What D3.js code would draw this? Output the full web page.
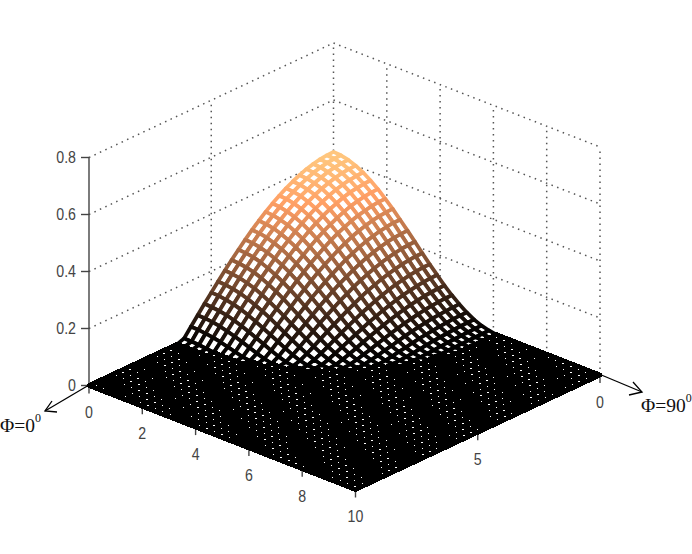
<!DOCTYPE html>
<html>
<head>
<meta charset="utf-8">
<script src="https://d3js.org/d3.v7.min.js"></script>
<style>
html, body {margin: 0; padding: 0; background: #fff;}
svg {display: block;}
.tick-label {font-family: "Liberation Sans", Arial, sans-serif; font-size: 16.5px; fill: #444;}
.phi-label {font-family: "Liberation Serif", "Times New Roman", serif; font-size: 19.5px; fill: #111;}
</style>
</head>
<body>
<div id="chart"></div>
<script>
var xTicks = [0, 2, 4, 6, 8, 10];
var yTicks = [0, 5, 10];
var zTicks = [0, 0.2, 0.4, 0.6, 0.8];
var zTickLabels = ["0", "0.2", "0.4", "0.6", "0.8"];
var cellCount = 36; // mesh cells per side

// estimated surface height per mesh row (thousandths), past the end of a row is the flat floor
var zRows = [
  [418,417,414,409,402,392,381,368,353,337,319,299,278,255,231,206,180,153,125,97,68,39,9],
  [416,415,412,407,400,390,379,366,352,335,317,297,276,253,229,204,178,151,124,95,67,38,8],
  [410,409,406,401,393,384,373,361,346,329,311,292,271,248,225,200,174,147,120,92,64,35,6],
  [400,399,396,391,384,375,364,351,337,320,303,283,262,240,217,193,167,141,114,87,59,31,3],
  [386,385,382,377,370,361,350,338,324,308,290,271,251,229,206,183,158,132,106,79,52,25],
  [368,367,364,360,353,344,334,322,308,292,275,257,237,216,193,170,146,121,96,70,44,18],
  [348,347,344,339,333,324,314,302,289,274,257,239,220,200,178,156,132,109,84,59,35,11],
  [324,324,321,316,310,302,292,281,268,253,237,220,201,182,161,140,117,95,71,48,25,3],
  [299,298,295,291,285,277,268,257,244,230,215,199,181,162,143,122,101,80,58,36,15],
  [271,271,268,264,258,251,242,231,220,206,192,176,159,142,123,104,84,64,44,24,6],
  [243,242,240,236,230,223,215,205,194,181,168,153,137,121,103,85,67,49,31,13],
  [214,213,211,207,202,195,187,178,168,156,143,130,115,100,84,67,51,34,18,4],
  [184,184,181,178,173,167,160,151,142,131,119,106,93,79,65,50,35,21,8],
  [155,155,153,150,145,140,133,125,116,106,96,84,72,60,47,34,21,10,1],
  [128,127,125,122,118,113,107,100,92,83,74,63,53,42,31,20,10,2],
  [101,101,99,97,93,89,83,77,70,62,54,45,36,26,17,9,2],
  [77,77,75,73,70,66,61,56,50,43,36,29,21,14,7,2],
  [56,55,54,52,50,46,42,38,33,27,21,16,10,5,1],
  [37,37,36,34,32,29,26,23,19,14,10,6,2],
  [22,22,21,20,18,16,14,11,8,5,3,1],
  [11,11,10,9,8,7,5,3,2,1],
  [4,3,3,3,2,1,1]
];

var width = 692,
  height = 554;

// axes box on the page (back corner + one vector per floor direction)
var back = {x: 333.5, y: 271},
  uVec = {x: 266.5, y: 104},
  vVec = {x: -244.5, y: 114.5};

var scaleU = d3.scaleLinear().domain([0, 10]).range([0, 1]);
var scaleV = d3.scaleLinear().domain([0, 10]).range([0, 1]);
var scaleZ = d3.scaleLinear().domain([0, 0.8]).range([0, -228]);

function project(u, v, z) {
  return [
    back.x + uVec.x * scaleU(u) + vVec.x * scaleV(v),
    back.y + uVec.y * scaleU(u) + vVec.y * scaleV(v) + scaleZ(z)
  ];
}

function zAt(i, j) {
  var row = zRows[i];
  if (!row || row[j] === undefined) return 0;
  return row[j] / 1000;
}

// matlab copper colormap
var zMax = d3.max(zRows, function(r) {return d3.max(r);}) / 1000;
function copper(z) {
  var t = z / zMax;
  return d3.rgb(Math.min(255, 255 * 1.25 * t), 255 * 0.7812 * t, 255 * 0.4975 * t).toString();
}

var line = d3.line();

var svg = d3.select("#chart").append("svg")
  .attr("width", width)
  .attr("height", height);

function tickLabel(x, y, str, anchor) {
  svg.append("text")
    .attr("class", "tick-label")
    .attr("transform", "translate(" + x + "," + y + ") scale(0.86,1)")
    .attr("dy", "0.36em")
    .attr("text-anchor", anchor)
    .text(str);
}

// dotted back walls
var grid = svg.append("g")
  .attr("fill", "none")
  .attr("stroke", "#555")
  .attr("stroke-width", 1.5)
  .attr("stroke-dasharray", "1.5 4.5");

zTicks.forEach(function(z) {
  grid.append("path").attr("d", line([project(0, 10, z), project(0, 0, z)]));
  grid.append("path").attr("d", line([project(0, 0, z), project(10, 0, z)]));
});
yTicks.slice(0, -1).forEach(function(v) {
  grid.append("path").attr("d", line([project(0, v, 0), project(0, v, 0.8)]));
});
xTicks.slice(1).forEach(function(u) {
  grid.append("path").attr("d", line([project(u, 0, 0), project(u, 0, 0.8)]));
});

// z axis
var axis = svg.append("g").attr("stroke", "#444").attr("stroke-width", 1.4).attr("fill", "none");
axis.append("path").attr("d", line([project(0, 10, 0), project(0, 10, 0.8)]));

zTicks.forEach(function(z, i) {
  var p = project(0, 10, z);
  axis.append("path").attr("d", line([[p[0] - 8, p[1]], p]));
  tickLabel(p[0] - 13, p[1], zTickLabels[i], "end");
});

// mesh, painted from the back corner forward so near cells hide far ones
var step = 10 / cellCount;
var mesh = svg.append("g")
  .attr("fill", "#fff")
  .attr("stroke-linejoin", "round");

var cells = [];
d3.range(cellCount).forEach(function(i) {
  d3.range(cellCount).forEach(function(j) {
    cells.push({
      i: i,
      j: j,
      z: (zAt(i, j) + zAt(i + 1, j) + zAt(i + 1, j + 1) + zAt(i, j + 1)) / 4
    });
  });
});

// flat floor cells get thicker aliased lines, that is what leaves the sparse white specks
mesh.selectAll("path")
  .data(cells)
  .enter().append("path")
  .attr("d", function(d) {
    var i = d.i, j = d.j;
    return line([
      project(i * step, j * step, zAt(i, j)),
      project((i + 1) * step, j * step, zAt(i + 1, j)),
      project((i + 1) * step, (j + 1) * step, zAt(i + 1, j + 1)),
      project(i * step, (j + 1) * step, zAt(i, j + 1))
    ]) + "Z";
  })
  .attr("stroke", function(d) {return copper(d.z);})
  .attr("stroke-width", function(d) {return d.z > 0 ? 3.8 : 4.8;})
  .attr("shape-rendering", function(d) {return d.z > 0 ? "auto" : "crispEdges";});

// floor ticks, drawn over the mesh edge
xTicks.forEach(function(u) {
  var p = project(u, 10, 0);
  axis.append("path").attr("d", line([p, [p[0], p[1] + 8]]));
  tickLabel(p[0], p[1] + 27, u, "middle");
});
yTicks.slice(0, -1).forEach(function(v) {
  var p = project(10, v, 0);
  axis.append("path").attr("d", line([p, [p[0], p[1] + 8]]));
  tickLabel(p[0], p[1] + 27, v, "middle");
});

// the two hand drawn arrows and their labels
var arrows = svg.append("g").attr("fill", "none").attr("stroke", "#000").attr("stroke-width", 1.3);
arrows.append("path").attr("d", line([[89, 385], [45, 411]]));
arrows.append("path").attr("d", line([[52, 401], [45, 411], [57, 412]]));
arrows.append("path").attr("d", line([[599, 374], [642, 392]]));
arrows.append("path").attr("d", line([[633, 382], [642, 392], [629, 395]]));

function phiLabel(x, y, base) {
  var t = svg.append("text").attr("class", "phi-label").attr("x", x).attr("y", y);
  t.append("tspan").text(base);
  t.append("tspan").attr("dy", -10).attr("font-size", 12).text("0");
}
phiLabel(0, 432, "\u03A6=0");
phiLabel(641, 412, "\u03A6=90");
</script>
</body>
</html>
